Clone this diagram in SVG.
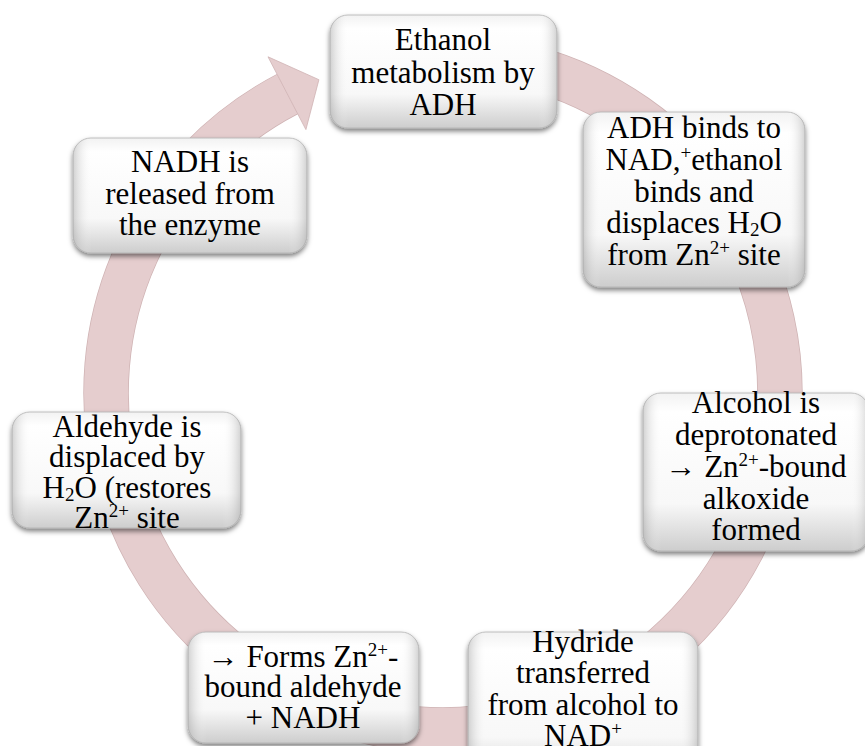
<svg xmlns="http://www.w3.org/2000/svg" width="865" height="746" viewBox="0 0 865 746">
<defs>
<linearGradient id="gv" x1="0" y1="0" x2="0" y2="1">
<stop offset="0" stop-color="#f2f2f2"/>
<stop offset="0.12" stop-color="#ffffff"/>
<stop offset="0.7" stop-color="#f8f8f8"/>
<stop offset="1" stop-color="#cdcdcd"/>
</linearGradient>
<linearGradient id="gh" x1="0" y1="0" x2="1" y2="0">
<stop offset="0" stop-color="#9a9a9a" stop-opacity="0.45"/>
<stop offset="0.08" stop-color="#ffffff" stop-opacity="0"/>
<stop offset="0.92" stop-color="#ffffff" stop-opacity="0"/>
<stop offset="1" stop-color="#9a9a9a" stop-opacity="0.45"/>
</linearGradient>
<filter id="sh" x="-10%" y="-10%" width="120%" height="130%">
<feDropShadow dx="0" dy="3" stdDeviation="2.5" flood-color="#000" flood-opacity="0.5"/>
</filter>
</defs>
<style>
.box{fill:url(#gv);stroke:#b0b0b0;stroke-width:0.8;filter:url(#sh)}
.ov{fill:url(#gh);stroke:none}
.t{font-family:"Liberation Serif","Times New Roman",serif;font-size:31px;fill:#000;text-anchor:middle}
.sup{font-size:19px}
.ring{fill:none;stroke:#e5cdce;stroke-width:44;stroke-linecap:butt}
.ringedge{fill:none;stroke:#cfb3b4;stroke-width:45.5;stroke-linecap:butt}
.head{fill:#e5cdce;stroke:#cfb3b4;stroke-width:0.8}
</style>
<g id="connectors">
<path class="ringedge" d="M 530.2 67.5 A 337 337 0 0 1 443 730 A 337 337 0 0 1 287.4 94.1"/>
<path class="ring" d="M 530.2 67.5 A 337 337 0 0 1 443 730 A 337 337 0 0 1 287.4 94.1"/>
<polygon class="head" points="268.0,56.8 318.9,79.7 305.9,129.6"/>
</g>
<g id="node1">
<rect class="box" x="330" y="15" width="227" height="113" rx="18"/>
<rect class="ov" x="330" y="15" width="227" height="113" rx="18"/>
<text class="t" x="443" y="50">Ethanol</text>
<text class="t" x="443" y="83">metabolism by</text>
<text class="t" x="443" y="115">ADH</text>
</g>
<g id="node2">
<rect class="box" x="583" y="112" width="222" height="175" rx="18"/>
<rect class="ov" x="583" y="112" width="222" height="175" rx="18"/>
<text class="t" x="694" y="138">ADH binds to</text>
<text class="t" x="694" y="170">NAD,<tspan class="sup" dy="-11">+</tspan><tspan dy="11">ethanol</tspan></text>
<text class="t" x="694" y="202">binds and</text>
<text class="t" x="694" y="233">displaces H<tspan class="sup" dy="3">2</tspan><tspan dy="-3">O</tspan></text>
<text class="t" x="694" y="265">from Zn<tspan class="sup" dy="-11">2+</tspan><tspan dy="11"> site</tspan></text>
</g>
<g id="node3">
<rect class="box" x="643" y="393" width="226" height="158" rx="18"/>
<rect class="ov" x="643" y="393" width="226" height="158" rx="18"/>
<text class="t" x="756" y="413">Alcohol is</text>
<text class="t" x="756" y="445">deprotonated</text>
<text class="t" x="756" y="477">→ Zn<tspan class="sup" dy="-11">2+</tspan><tspan dy="11">-bound</tspan></text>
<text class="t" x="756" y="509">alkoxide</text>
<text class="t" x="756" y="540">formed</text>
</g>
<g id="node4">
<rect class="box" x="468" y="632" width="230" height="150" rx="18"/>
<rect class="ov" x="468" y="632" width="230" height="150" rx="18"/>
<text class="t" x="583" y="652">Hydride</text>
<text class="t" x="583" y="683">transferred</text>
<text class="t" x="583" y="715">from alcohol to</text>
<text class="t" x="583" y="746">NAD<tspan class="sup" dy="-11">+</tspan></text>
</g>
<g id="node5">
<rect class="box" x="188" y="632" width="231" height="111" rx="18"/>
<rect class="ov" x="188" y="632" width="231" height="111" rx="18"/>
<text class="t" x="303" y="667">→ Forms Zn<tspan class="sup" dy="-11">2+</tspan><tspan dy="11">-</tspan></text>
<text class="t" x="303" y="697">bound aldehyde</text>
<text class="t" x="303" y="728">+ NADH</text>
</g>
<g id="node6">
<rect class="box" x="12" y="412" width="229" height="116" rx="18"/>
<rect class="ov" x="12" y="412" width="229" height="116" rx="18"/>
<text class="t" x="127" y="437">Aldehyde is</text>
<text class="t" x="127" y="467">displaced by</text>
<text class="t" x="127" y="498">H<tspan class="sup" dy="3">2</tspan><tspan dy="-3">O (restores</tspan></text>
<text class="t" x="127" y="528">Zn<tspan class="sup" dy="-11">2+</tspan><tspan dy="11"> site</tspan></text>
</g>
<g id="node7">
<rect class="box" x="73" y="138" width="234" height="115" rx="18"/>
<rect class="ov" x="73" y="138" width="234" height="115" rx="18"/>
<text class="t" x="190" y="172">NADH is</text>
<text class="t" x="190" y="204">released from</text>
<text class="t" x="190" y="235">the enzyme</text>
</g>
</svg>
